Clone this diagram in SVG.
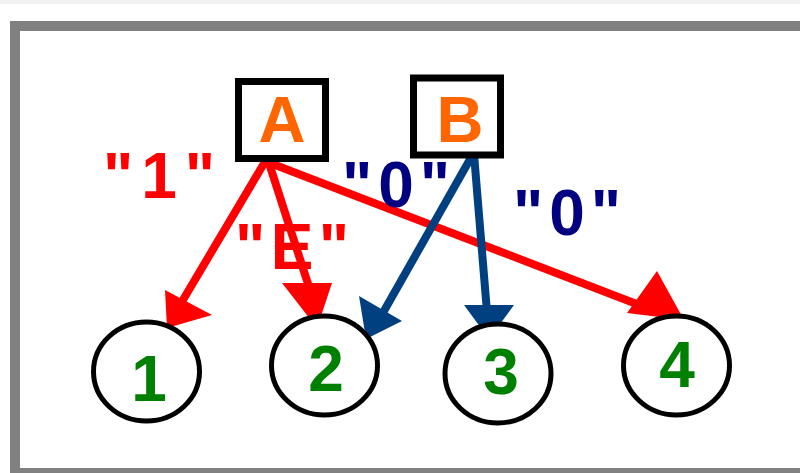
<svg xmlns="http://www.w3.org/2000/svg" width="800" height="473" viewBox="0 0 800 473">
<style>
.frame{fill:none;stroke:#808080;stroke-width:10}
.box{fill:#fff;stroke:#000;stroke-width:7}
.state{fill:#fff;stroke:#000;stroke-width:5}
.nl{font-family:"Liberation Sans",Arial,sans-serif;font-weight:bold;font-size:65px;fill:#ff6600;text-anchor:middle}
.dl{font-family:"Liberation Sans",Arial,sans-serif;font-weight:bold;font-size:64px;fill:#008000;text-anchor:middle}
.lab{font-family:"Liberation Sans",Arial,sans-serif;font-weight:bold;font-size:64px}
.red{stroke:#ff0000;stroke-width:8;fill:none;stroke-linecap:butt}
.blue{stroke:#004080;stroke-width:8;fill:none;stroke-linecap:butt}
.rh{fill:#ff0000}
.bh{fill:#004080}
</style>
<rect x="0" y="0" width="800" height="4" fill="#f0f0f0"/>
<rect width="800" height="469" x="0" y="4" fill="#fff"/>
<rect class="frame" x="15" y="26" width="800" height="447"/>

<g id="connectors">
  <line class="red" x1="266" y1="160" x2="177" y2="310"/>
  <polygon class="rh" points="167,328 165,290 212,315"/>
  <line class="red" x1="268" y1="160" x2="310" y2="290"/>
  <polygon class="rh" points="317,328 282,283 332,283"/>
  <line class="red" x1="270" y1="163" x2="660" y2="313"/>
  <polygon class="rh" points="657,271 627,313 684,320"/>
  <line class="blue" x1="473" y1="154" x2="380" y2="318"/>
  <polygon class="bh" points="366,339 359,296 402,321"/>
  <line class="blue" x1="474" y1="154" x2="487" y2="312"/>
  <polygon class="bh" points="489,339 464,305 514,305"/>
</g>

<g id="labels">
  <text class="lab" fill="#ff0000" x="103" y="198" textLength="112" lengthAdjust="spacing">"1"</text>
  <text class="lab" fill="#ff0000" x="235" y="269" textLength="114" lengthAdjust="spacing">"E"</text>
  <text class="lab" fill="#000080" x="342" y="207" textLength="108" lengthAdjust="spacing">"0"</text>
  <text class="lab" fill="#000080" x="513" y="235" textLength="108" lengthAdjust="spacing">"0"</text>
</g>

<g id="node-A">
  <rect class="box" x="238.5" y="81.5" width="87" height="77"/>
  <text class="nl" x="282" y="142">A</text>
</g>
<g id="node-B">
  <rect class="box" x="413.5" y="78" width="87" height="77"/>
  <text class="nl" x="460" y="142">B</text>
</g>
<g id="node-1">
  <ellipse class="state" cx="146.5" cy="371.5" rx="53" ry="49.5"/>
  <text class="dl" x="149" y="401">1</text>
</g>
<g id="node-2">
  <ellipse class="state" cx="324.5" cy="365.5" rx="53" ry="49.5"/>
  <text class="dl" x="326" y="391">2</text>
</g>
<g id="node-3">
  <ellipse class="state" cx="498" cy="373.5" rx="53" ry="49.5"/>
  <text class="dl" x="501" y="394">3</text>
</g>
<g id="node-4">
  <ellipse class="state" cx="676.5" cy="365.5" rx="53" ry="49.5"/>
  <text class="dl" x="677" y="387">4</text>
</g>
</svg>
